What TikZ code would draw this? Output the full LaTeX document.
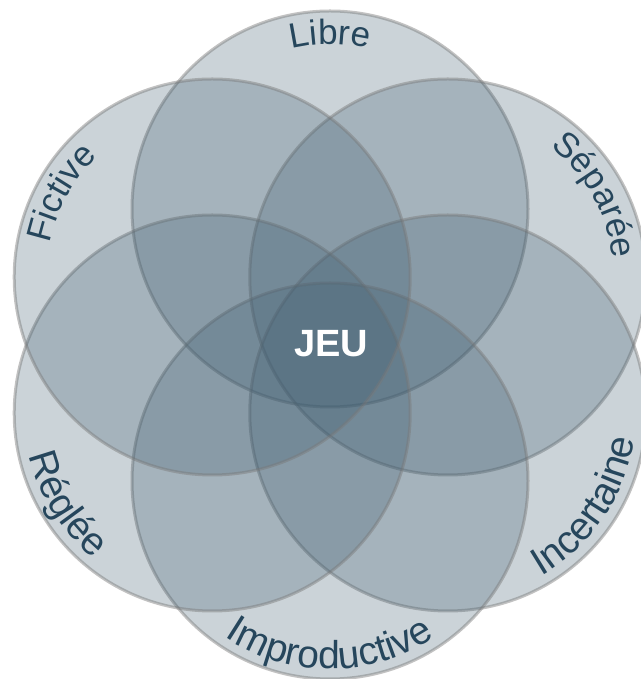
\documentclass[tikz,border=0pt]{standalone}
\usepackage{fontspec}
\setmainfont{Liberation Sans}
\usetikzlibrary{decorations.text,calc}
\definecolor{circfill}{RGB}{62,92,111}
\definecolor{circline}{RGB}{120,120,120}
\definecolor{labcol}{RGB}{38,70,92}
\newcommand\mytoplab{\fontsize{35}{35}\selectfont\color{labcol}}
\newcommand\mybotlab{\fontsize{39}{39}\selectfont\color{labcol}}
\tikzset{
  petal/.style={fill=circfill, fill opacity=0.27, draw=circline, draw opacity=0.45, line width=3pt},
  toplabel/.style={decorate, decoration={text along path, text={|\mytoplab|#1}, text align=center}},
  botlabel/.style={decorate, decoration={text along path, text={|\mybotlab|#1}, text align=center}}
}
\begin{document}
\begin{tikzpicture}[x=1pt,y=1pt]
\useasboundingbox (0,0) rectangle (640,679);
\coordinate (O) at (330,334);
\coordinate (cT) at ($(O)+(90:136)$);
\coordinate (cTL) at ($(O)+(150:136)$);
\coordinate (cBL) at ($(O)+(210:136)$);
\coordinate (cB) at ($(O)+(270:136)$);
\coordinate (cBR) at ($(O)+(330:136)$);
\coordinate (cTR) at ($(O)+(30:136)$);
\foreach \c in {cT,cTR,cBR,cB,cBL,cTL}{
  \path[petal] (\c) circle[radius=198];
}
\path[toplabel=Libre] (cT) ++(150:165) arc[start angle=150, end angle=30, radius=165];
\path[toplabel=Fictive] (cTL) ++(211:166) arc[start angle=211, end angle=91, radius=166];
\path[toplabel=Séparée] (cTR) ++(89:166) arc[start angle=89, end angle=-31, radius=166];
\path[botlabel=Improductive] (cB) ++(210:188) arc[start angle=210, end angle=330, radius=188];
\path[botlabel=Réglée] (cBL) ++(152:188) arc[start angle=152, end angle=272, radius=188];
\path[botlabel=Incertaine] (cBR) ++(266:188) arc[start angle=266, end angle=386, radius=188];
\node[font=\fontsize{38}{38}\selectfont\bfseries, text=white, inner sep=0pt] (jeu) at (331,335) {JEU};
\end{tikzpicture}
\end{document}
